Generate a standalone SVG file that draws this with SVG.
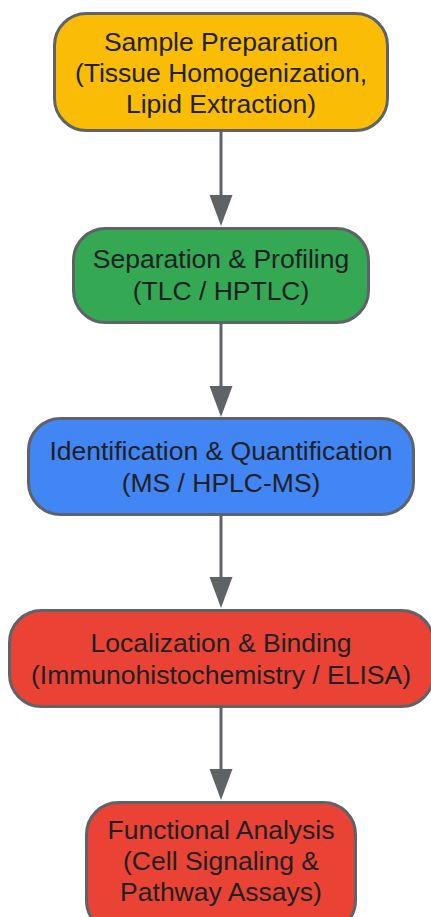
<svg xmlns="http://www.w3.org/2000/svg" width="431" height="917" viewBox="0 0 431 917">
<defs>
<style>
.box{stroke:#5f6368;stroke-width:3}
.t{font-family:"Liberation Sans",Arial,sans-serif;font-size:26.5px;fill:#202124;text-anchor:middle}
.edge{stroke:#5f6368;stroke-width:3;fill:none}
</style>
</defs>
<rect width="431" height="917" fill="#ffffff"/>
<g id="edges">
<line class="edge" x1="221" y1="131" x2="221" y2="196"/>
<path d="M209.5,195 L232.5,195 L221,226 z" fill="#5f6368"/>
<line class="edge" x1="221" y1="323" x2="221" y2="388"/>
<path d="M209.5,386 L232.5,386 L221,417 z" fill="#5f6368"/>
<line class="edge" x1="221" y1="515" x2="221" y2="580"/>
<path d="M209.5,577 L232.5,577 L221,608 z" fill="#5f6368"/>
<line class="edge" x1="221" y1="707" x2="221" y2="772"/>
<path d="M209.5,769 L232.5,769 L221,800 z" fill="#5f6368"/>
</g>
<g id="n1">
<rect class="box" x="54.5" y="13.5" width="333" height="117" rx="32" fill="#fbbc05"/>
<text class="t" x="221" y="51">Sample Preparation</text>
<text class="t" x="221" y="82">(Tissue Homogenization,</text>
<text class="t" x="221" y="113">Lipid Extraction)</text>
</g>
<g id="n2">
<rect class="box" x="73.5" y="228.5" width="295" height="94" rx="32" fill="#34a853"/>
<text class="t" x="221" y="268">Separation &amp; Profiling</text>
<text class="t" x="221" y="300">(TLC / HPTLC)</text>
</g>
<g id="n3">
<rect class="box" x="28.5" y="418.5" width="385" height="96" rx="32" fill="#4285f4"/>
<text class="t" x="221" y="460">Identification &amp; Quantification</text>
<text class="t" x="221" y="492">(MS / HPLC-MS)</text>
</g>
<g id="n4">
<rect class="box" x="9.5" y="610.5" width="424" height="96" rx="32" fill="#ea4335"/>
<text class="t" x="221" y="652">Localization &amp; Binding</text>
<text class="t" x="221" y="684">(Immunohistochemistry / ELISA)</text>
</g>
<g id="n5">
<rect class="box" x="86.5" y="802.5" width="269" height="130" rx="32" fill="#ea4335"/>
<text class="t" x="221" y="839">Functional Analysis</text>
<text class="t" x="221" y="870">(Cell Signaling &amp;</text>
<text class="t" x="221" y="901">Pathway Assays)</text>
</g>
</svg>
